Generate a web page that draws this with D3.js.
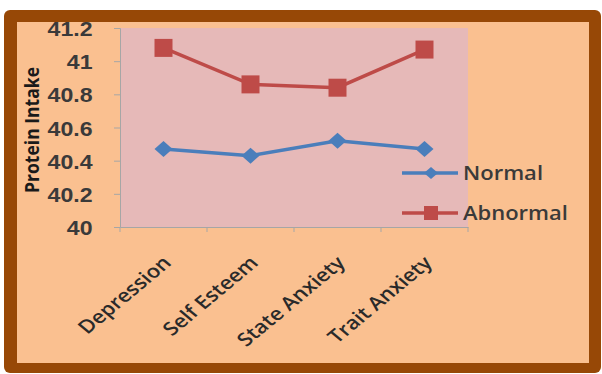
<!DOCTYPE html>
<html>
<head>
<meta charset="utf-8">
<script src="https://cdn.jsdelivr.net/npm/d3@7"></script>
<style>
  body { margin: 0; background: #fff; }
  svg { display: block; font-family: "Open Sans", "DejaVu Sans", sans-serif; }
</style>
</head>
<body>
<svg id="chart" width="602" height="374"></svg>
<script>
// chart data
const categories = ["Depression", "Self Esteem", "State Anxiety", "Trait Anxiety"];
const normal = [40.47, 40.43, 40.52, 40.47];
const abnormal = [41.08, 40.86, 40.84, 41.07];
const yTicks = [40, 40.2, 40.4, 40.6, 40.8, 41, 41.2];
const seriesNames = ["Normal", "Abnormal"];

const svg = d3.select("#chart");

// frame + background
svg.append("rect").attr("x", 4).attr("y", 10).attr("width", 597).attr("height", 363)
  .attr("rx", 6).attr("fill", "#974806");
svg.append("rect").attr("x", 17).attr("y", 22).attr("width", 572).attr("height", 341)
  .attr("fill", "#FAC090");

const plot = { left: 120, right: 468, top: 28, bottom: 227 };

const x = d3.scaleBand().domain(categories).range([plot.left, plot.right]);
const y = d3.scaleLinear().domain([40, 41.2]).range([plot.bottom, plot.top]);
const cx = d => x(d) + x.bandwidth() / 2;

svg.append("rect")
  .attr("x", plot.left).attr("y", plot.top)
  .attr("width", plot.right - plot.left).attr("height", plot.bottom - plot.top)
  .attr("fill", "#E6B9B8");

// y axis
const yAxis = svg.append("g").attr("transform", `translate(${plot.left},0)`)
  .call(d3.axisLeft(y).tickValues(yTicks).tickSize(6).tickPadding(19)
    .tickFormat(d3.format("~g")));
yAxis.select(".domain").attr("stroke", "#A6A6A6");
yAxis.selectAll(".tick line").attr("stroke", "#A6A6A6");
yAxis.selectAll("text").attr("fill", "#3a3a3a").attr("font-size", 21)
  .attr("font-weight", 600).attr("dy", "0.36em")
  .attr("transform", "scale(1.1,1)");

// x axis
const xAxis = svg.append("g").attr("transform", `translate(0,${plot.bottom})`)
  .call(d3.axisBottom(x).tickSize(0).tickFormat(""));
xAxis.select(".domain").attr("stroke", "#A6A6A6");
xAxis.selectAll(".edge").data(d3.range(categories.length + 1)).enter()
  .append("line")
  .attr("x1", i => plot.left + i * x.step()).attr("x2", i => plot.left + i * x.step())
  .attr("y1", 0).attr("y2", 5).attr("stroke", "#A6A6A6");

// category labels, slanted like the stretched original
svg.append("g").selectAll("text").data(categories).enter().append("text")
  .attr("transform", d => `translate(${cx(d) + 9},${plot.bottom + 37}) scale(1.2,1) rotate(-45)`)
  .attr("text-anchor", "end")
  .attr("fill", "#2a2a2a").attr("font-size", 18.5).attr("font-weight", 600)
  .text(d => d);

// y title
svg.append("text")
  .attr("transform", `translate(39,130) rotate(-90)`)
  .attr("text-anchor", "middle")
  .attr("fill", "#1a1a1a").attr("font-size", 19).attr("font-weight", "bold")
  .attr("textLength", 126).attr("lengthAdjust", "spacingAndGlyphs")
  .text("Protein Intake");

// lines
const line = d3.line().x((d, i) => cx(categories[i])).y(d => y(d));
const colors = ["#4A7EBB", "#BE4B48"];
const diamond = (w, h) => `M0,${-h}L${w},0L0,${h}L${-w},0Z`;
const square = s => `M${-s},${-s}H${s}V${s}H${-s}Z`;

[normal, abnormal].forEach((vals, s) => {
  svg.append("path").datum(vals).attr("d", line)
    .attr("fill", "none").attr("stroke", colors[s]).attr("stroke-width", 3.5);
  svg.append("g").selectAll("path").data(vals).enter().append("path")
    .attr("transform", (d, i) => `translate(${cx(categories[i])},${y(d)})`)
    .attr("d", s === 0 ? diamond(9, 8) : square(9))
    .attr("fill", colors[s]);
});

// legend
const legend = svg.append("g");
seriesNames.forEach((name, s) => {
  const ly = 173 + s * 40;
  legend.append("line").attr("x1", 402).attr("x2", 458).attr("y1", ly).attr("y2", ly)
    .attr("stroke", colors[s]).attr("stroke-width", 3.5);
  legend.append("path").attr("transform", `translate(431,${ly})`)
    .attr("d", s === 0 ? diamond(7, 6) : square(7)).attr("fill", colors[s]);
  legend.append("text").attr("transform", `translate(463,${ly + 7}) scale(1.1,1)`)
    .attr("fill", "#3a3a3a").attr("font-size", 20).attr("font-weight", 600).text(name);
});
</script>
</body>
</html>
